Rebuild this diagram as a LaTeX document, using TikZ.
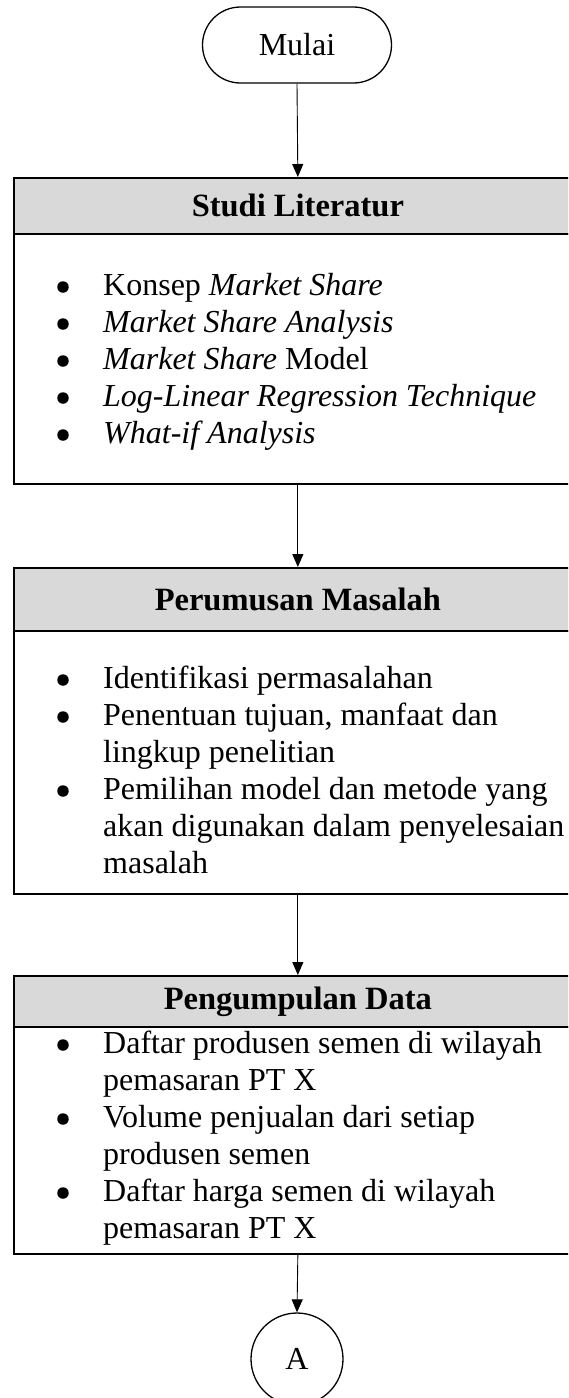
\documentclass[tikz,border=0pt]{standalone}
\usepackage{fontspec}
\setmainfont{Liberation Serif}
\usetikzlibrary{arrows.meta}
\definecolor{headgray}{HTML}{D9D9D9}
\begin{document}
\begin{tikzpicture}[x=1pt,y=-1pt,
  flow/.style={draw=black,line width=0.9pt,-{Triangle[width=11pt,length=13pt]}},
  frame/.style={draw=black,line width=1.7pt,inner sep=0pt},
  headbox/.style={frame,fill=headgray,anchor=north west,minimum width=568pt,
    font=\fontsize{32.5}{37}\selectfont\bfseries},
  bodybox/.style={frame,anchor=north west,minimum width=568pt},
  line/.style={anchor=base west,inner sep=0pt,font=\fontsize{32}{37}\selectfont},
  dot/.style={circle,fill=black,inner sep=0pt,minimum size=11.5pt},
  term/.style={draw=black,line width=1.3pt,inner sep=0pt,font=\fontsize{32}{37}\selectfont}
]
\useasboundingbox (0,0) rectangle (568,1398);
\clip (0,0) rectangle (568,1398);

% start terminator
\node[term,rounded corners=38pt,minimum width=189pt,minimum height=76pt] (start) at (297,45) {Mulai};

% block 1: literature study
\node[headbox,minimum height=56pt] (h1) at (13,177) {Studi Literatur};
\node[bodybox,minimum height=250pt] (b1) at (13,233) {};
\node[dot] (d11) at (63,287) {};
\node[line] (t11) at (103,295) {Konsep \textit{Market Share}};
\node[dot] (d12) at (63,324) {};
\node[line] (t12) at (103,332) {\textit{Market Share Analysis}};
\node[dot] (d13) at (63,361) {};
\node[line] (t13) at (103,369) {\textit{Market Share} Model};
\node[dot] (d14) at (63,398) {};
\node[line] (t14) at (103,406) {\textit{Log-Linear Regression Technique}};
\node[dot] (d15) at (63,435) {};
\node[line] (t15) at (103,443) {\textit{What-if Analysis}};

% block 2: problem formulation
\node[headbox,minimum height=63pt] (h2) at (13,567) {Perumusan Masalah};
\node[bodybox,minimum height=263pt] (b2) at (13,630) {};
\node[dot] (d21) at (63,680) {};
\node[line] (t21) at (103,688) {Identifikasi permasalahan};
\node[dot] (d22) at (63,717) {};
\node[line] (t22) at (103,725) {Penentuan tujuan, manfaat dan};
\node[line] (t23) at (103,762) {lingkup penelitian};
\node[dot] (d24) at (63,791) {};
\node[line] (t24) at (103,799) {Pemilihan model dan metode yang};
\node[line] (t25) at (103,836) {akan digunakan dalam penyelesaian};
\node[line] (t26) at (103,873) {masalah};

% block 3: data collection
\node[headbox,minimum height=51pt] (h3) at (13,975) {Pengumpulan Data};
\node[bodybox,minimum height=227pt] (b3) at (13,1026) {};
\node[dot] (d31) at (63,1045) {};
\node[line] (t31) at (103,1053) {Daftar produsen semen di wilayah};
\node[line] (t32) at (103,1090) {pemasaran PT X};
\node[dot] (d33) at (63,1119) {};
\node[line] (t33) at (103,1127) {Volume penjualan dari setiap};
\node[line] (t34) at (103,1164) {produsen semen};
\node[dot] (d35) at (63,1193) {};
\node[line] (t35) at (103,1201) {Daftar harga semen di wilayah};
\node[line] (t36) at (103,1238) {pemasaran PT X};

% connector A
\node[term,circle,minimum size=92pt] (A) at (297,1359) {A};

% connectors
\draw[flow] (start.south) -- (h1.north);
\draw[flow] (b1.south) -- (h2.north);
\draw[flow] (b2.south) -- (h3.north);
\draw[flow] (b3.south) -- (A.north);
\end{tikzpicture}
\end{document}
